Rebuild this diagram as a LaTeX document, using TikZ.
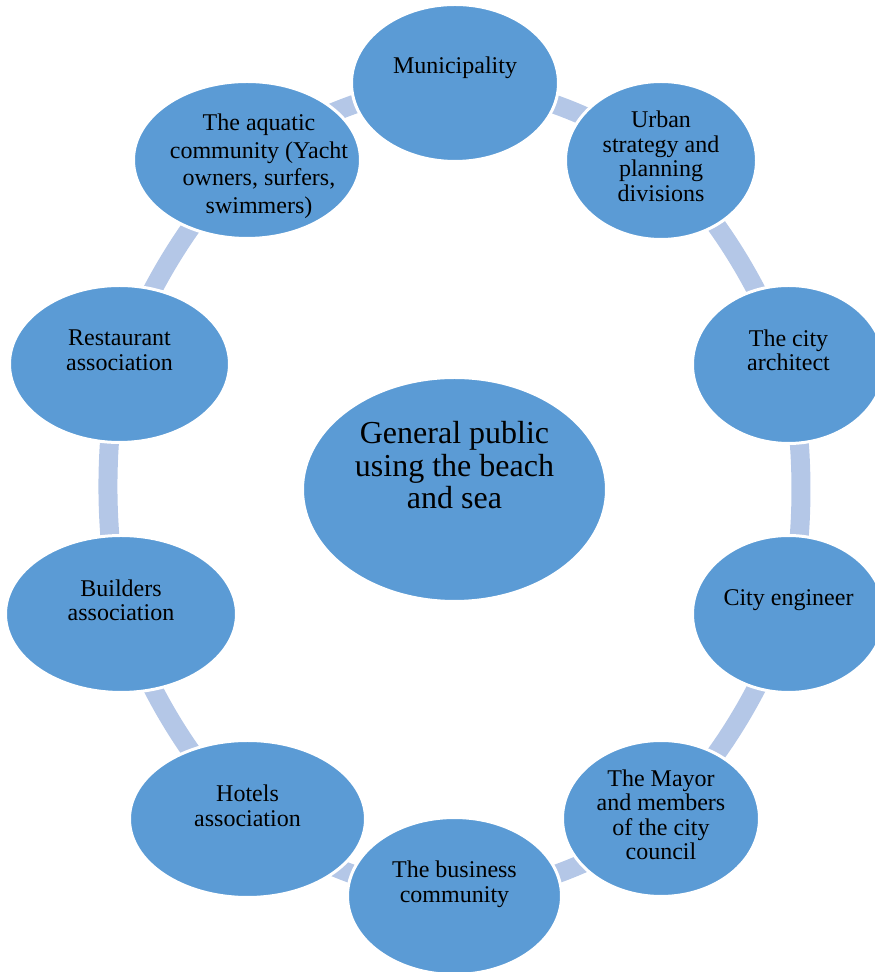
\documentclass[tikz,border=0pt]{standalone}
\usepackage{fontspec}
\setmainfont{Liberation Serif}
\usetikzlibrary{shapes.geometric,backgrounds}
\definecolor{nodeblue}{HTML}{5B9BD5}
\definecolor{ringblue}{HTML}{B4C7E7}
\begin{document}
\begin{tikzpicture}[x=1pt,y=1pt,
  ell/.style={ellipse, fill=nodeblue, draw=white, line width=3pt, inner sep=0pt},
  lbl/.style={align=center, font=\fontsize{24}{24.5}\selectfont, text=black, inner sep=0pt, draw=none, fill=none},
  widelbl/.style={lbl, font=\fontsize{24}{27.5}\selectfont},
  biglbl/.style={lbl, font=\fontsize{32}{32.5}\selectfont},
  conn/.style={draw=ringblue, line width=19pt}]
\useasboundingbox (0,0) rectangle (875,972);
\node[ell, minimum width=207pt, minimum height=157pt, label={[lbl, yshift=15pt]center:{Municipality}}] (mun) at (455,889) {};
\node[ell, minimum width=191pt, minimum height=158pt, label={[lbl, yshift=4pt]center:{Urban\\strategy and\\planning\\divisions}}] (urb) at (661,811.5) {};
\node[ell, minimum width=192pt, minimum height=158pt, label={[lbl, yshift=14pt]center:{The city\\architect}}] (arc) at (788.5,607.5) {};
\node[ell, minimum width=192pt, minimum height=157pt, label={[lbl, yshift=14pt]center:{City engineer}}] (eng) at (788.5,358) {};
\node[ell, minimum width=197pt, minimum height=156pt, label={[lbl, yshift=3.5pt]center:{The Mayor\\and members\\of the city\\council}}] (may) at (661,153.5) {};
\node[ell, minimum width=214pt, minimum height=157pt, label={[lbl, yshift=11.5pt]center:{The business\\community}}] (bus) at (454.5,76) {};
\node[ell, minimum width=236pt, minimum height=157pt, label={[lbl, yshift=13pt]center:{Hotels\\association}}] (hot) at (247.5,153) {};
\node[ell, minimum width=231pt, minimum height=157pt, label={[lbl, yshift=13.5pt]center:{Builders\\association}}] (bld) at (121,358) {};
\node[ell, minimum width=220pt, minimum height=157pt, label={[lbl, yshift=13.5pt]center:{Restaurant\\association}}] (res) at (119.5,608) {};
\node[ell, minimum width=227pt, minimum height=157pt, label={[widelbl, xshift=12pt, yshift=-6pt]center:{The aquatic\\community (Yacht\\owners, surfers,\\swimmers)}}] (aqu) at (247,812) {};
\node[ell, minimum width=304pt, minimum height=224pt, label={[biglbl, yshift=24pt]center:{General public\\using the beach\\and sea}}] (pub) at (454.5,482.5) {};
\begin{pgfonlayer}{background}
\draw[conn] (mun.center) .. controls (527.36,883.5) and (598.35,856.69) .. (urb.center);
\draw[conn] (urb.center) .. controls (716.23,757.13) and (760.12,686.95) .. (arc.center);
\draw[conn] (arc.center) .. controls (805.14,525.87) and (805.14,439.13) .. (eng.center);
\draw[conn] (eng.center) .. controls (760.12,278.05) and (716.23,207.87) .. (may.center);
\draw[conn] (may.center) .. controls (598.35,108.31) and (527.36,81.5) .. (bus.center);
\draw[conn] (bus.center) .. controls (381.64,81.5) and (310.65,108.31) .. (hot.center);
\draw[conn] (hot.center) .. controls (192.77,207.87) and (148.88,278.05) .. (bld.center);
\draw[conn] (bld.center) .. controls (103.86,439.13) and (103.86,525.87) .. (res.center);
\draw[conn] (res.center) .. controls (148.88,686.95) and (192.77,757.13) .. (aqu.center);
\draw[conn] (aqu.center) .. controls (310.65,856.69) and (381.64,883.5) .. (mun.center);
\end{pgfonlayer}
\end{tikzpicture}
\end{document}
